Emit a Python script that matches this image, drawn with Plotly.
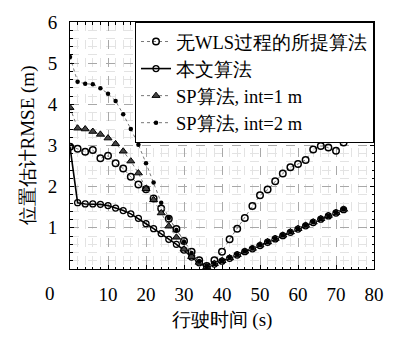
import plotly.graph_objects as go

t = [0, 2, 4, 6, 8, 10, 12, 14, 16, 18, 20, 22, 24, 26, 28, 30, 32, 34, 36,
     38, 40, 42, 44, 46, 48, 50, 52, 54, 56, 58, 60, 62, 64, 66, 68, 70, 72]

no_wls = [2.97, 2.92, 2.85, 2.89, 2.69, 2.75, 2.57, 2.44, 2.24, 2.05, 1.94, 1.71, 1.47,
          1.22, 0.97, 0.68, 0.42, 0.21, 0.07, 0.21, 0.42, 0.72, 0.98, 1.24, 1.53,
          1.79, 1.93, 2.13, 2.32, 2.47, 2.55, 2.65, 2.90, 2.99, 2.95, 2.87, 3.07]

proposed = [2.97, 1.61, 1.58, 1.58, 1.57, 1.54, 1.48, 1.42, 1.34, 1.23, 1.10, 0.98, 0.86,
            0.72, 0.60, 0.46, 0.29, 0.15, 0.04, 0.12, 0.19, 0.26, 0.34, 0.42, 0.49,
            0.57, 0.65, 0.73, 0.81, 0.89, 0.97, 1.05, 1.13, 1.21, 1.29, 1.36, 1.44]

sp_int1 = [3.92, 3.42, 3.40, 3.34, 3.27, 3.18, 3.04, 2.86, 2.62, 2.33, 1.95, 1.68, 1.36,
           1.04, 0.77, 0.48, 0.30, 0.16, 0.05, 0.13, 0.20, 0.27, 0.35, 0.43, 0.50,
           0.58, 0.66, 0.74, 0.82, 0.90, 0.98, 1.06, 1.14, 1.22, 1.30, 1.37, 1.45]

sp_int2 = [5.15, 4.55, 4.50, 4.49, 4.39, 4.26, 4.08, 3.76, 3.40, 3.02, 2.57, 2.10, 1.61,
           1.24, 0.95, 0.66, 0.39, 0.19, 0.06, 0.13, 0.20, 0.28, 0.35, 0.43, 0.51,
           0.58, 0.66, 0.74, 0.82, 0.90, 0.98, 1.06, 1.14, 1.22, 1.29, 1.37, 1.45]

names = ["无WLS过程的所提算法", "本文算法", "SP算法, int=1 m", "SP算法, int=2 m"]
x_ticks = [10, 20, 30, 40, 50, 60, 70, 80]
y_ticks = [1, 2, 3, 4, 5, 6]

FONT = "Liberation Serif"

fig = go.Figure()
fig.add_trace(go.Scatter(
    x=t, y=no_wls, name=names[0], mode="lines+markers",
    line=dict(color="#777", width=1, dash="dot"),
    marker=dict(symbol="circle-open", size=6.5, color="black", line=dict(width=1.5, color="black"))))
fig.add_trace(go.Scatter(
    x=t, y=proposed, name=names[1], mode="lines+markers",
    line=dict(color="black", width=1.6),
    marker=dict(symbol="circle-open", size=6, color="black", line=dict(width=1.3, color="black"))))
fig.add_trace(go.Scatter(
    x=t, y=sp_int1, name=names[2], mode="lines+markers",
    line=dict(color="#777", width=1, dash="dot"),
    marker=dict(symbol="triangle-up", size=7, color="#444", line=dict(width=1, color="black"))))
fig.add_trace(go.Scatter(
    x=t, y=sp_int2, name=names[3], mode="lines+markers",
    line=dict(color="#777", width=1, dash="dot"),
    marker=dict(symbol="circle", size=4.5, color="black")))

axis_common = dict(
    showline=True, linecolor="black", linewidth=1, mirror="allticks",
    ticks="inside", ticklen=4, tickcolor="black",
    showgrid=True, gridcolor="#a8a8a8", griddash="dash", gridwidth=1,
    zeroline=False,
    tickfont=dict(family=FONT, size=19, color="black"),
    title_font=dict(family=FONT, size=19, color="black"),
)

fig.update_xaxes(
    range=[0, 80], tickvals=x_ticks,
    minor=dict(dtick=2, showgrid=True, gridcolor="#e3e3e3", gridwidth=1,
               ticks="inside", ticklen=2.5, tickcolor="black"),
    title_text="行驶时间 (s)", title_standoff=8,
    ticklabelstandoff=8,
    **axis_common)
fig.update_yaxes(
    range=[0, 6], tickvals=y_ticks,
    minor=dict(dtick=0.2, showgrid=True, gridcolor="#e3e3e3", gridwidth=1,
               ticks="inside", ticklen=2.5, tickcolor="black"),
    title_text="位置估计RMSE (m)", title_standoff=8,
    ticklabelstandoff=8,
    **axis_common)

fig.add_annotation(x=0, y=0, xref="x", yref="y", text="0", showarrow=False,
                   xshift=-20, yshift=-24,
                   font=dict(family=FONT, size=19, color="black"))

fig.update_layout(
    width=396, height=338,
    margin=dict(l=70, r=14, t=16, b=68),
    paper_bgcolor="white", plot_bgcolor="white",
    font=dict(family=FONT, size=19, color="black"),
    showlegend=True,
    legend=dict(x=1, y=1, xanchor="right", yanchor="top",
                bgcolor="white", bordercolor="black", borderwidth=1,
                font=dict(family=FONT, size=18.5, color="black"),
                tracegroupgap=0, itemwidth=30),
)

fig.write_html("out.html")
